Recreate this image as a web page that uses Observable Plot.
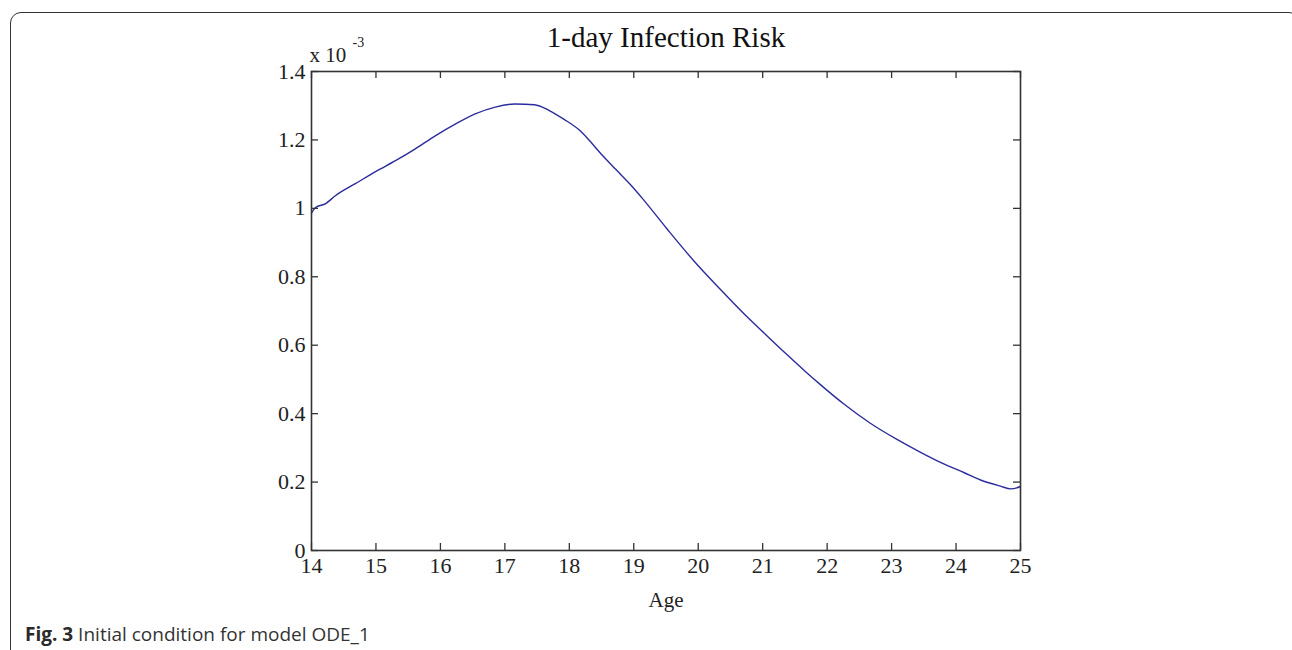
<!DOCTYPE html>
<html>
<head>
<meta charset="utf-8">
<script src="https://cdn.jsdelivr.net/npm/d3@7"></script>
<script src="https://cdn.jsdelivr.net/npm/@observablehq/plot@0.6"></script>
<style>
  html, body { margin: 0; padding: 0; background: #fff; overflow: hidden; }
  #wrap { position: relative; width: 1292px; height: 650px; overflow: hidden; }
  #border { position: absolute; left: 10px; top: 12px; width: 1290px; height: 700px;
            border: 1.5px solid #333; border-radius: 11px; box-sizing: border-box; }
  #chart { position: absolute; left: 0; top: 0; }
  #caption { position: absolute; left: 25px; top: 622px; font-family: "Open Sans", sans-serif;
             font-size: 19px; line-height: 24px; color: #333; white-space: nowrap; }
  #caption b { color: #2a2a2a; }
</style>
</head>
<body>
<div id="wrap">
  <div id="border"></div>
  <div id="chart"></div>
  <div id="caption"><b>Fig. 3</b> Initial condition for model ODE_1</div>
</div>
<script>
// Data (risk in units of 1e-3)
const ages = [14.0, 14.06, 14.22, 14.37, 14.68, 15.0, 15.31, 15.61, 15.92, 16.23, 16.54, 16.85, 17.15, 17.46, 17.69, 17.92, 18.16, 18.28, 18.48, 18.72, 18.95, 19.13, 19.52, 19.93, 20.35, 20.71, 21.02, 21.38, 21.64, 21.90, 22.26, 22.67, 23.09, 23.45, 23.81, 24.12, 24.38, 24.69, 24.85, 25.0];
const risk = [0.986, 1.002, 1.014, 1.037, 1.072, 1.108, 1.140, 1.174, 1.212, 1.246, 1.276, 1.296, 1.305, 1.303, 1.286, 1.260, 1.228, 1.205, 1.162, 1.114, 1.069, 1.030, 0.939, 0.847, 0.762, 0.692, 0.636, 0.572, 0.527, 0.484, 0.428, 0.372, 0.324, 0.287, 0.253, 0.228, 0.206, 0.188, 0.180, 0.187];
const xTicks = [14, 15, 16, 17, 18, 19, 20, 21, 22, 23, 24, 25];
const yTicks = [0, 0.2, 0.4, 0.6, 0.8, 1, 1.2, 1.4];
const yTickLabels = ["0", "0.2", "0.4", "0.6", "0.8", "1", "1.2", "1.4"];
const titleText = "1-day Infection Risk";
const xLabel = "Age";
const expBase = "x 10";
const expPower = "-3";

const data = ages.map((a, i) => ({age: a, risk: risk[i]}));

const W = 1292, H = 650, mL = 311, mR = 272, mT = 71, mB = 100;
const innerW = W - mL - mR, innerH = H - mT - mB, tick = 7;
const serif = "'Liberation Serif', 'Times New Roman', serif";
const ink = "#222";

const chart = Plot.plot({
  width: W, height: H,
  marginLeft: mL, marginRight: mR, marginTop: mT, marginBottom: mB,
  style: {background: "transparent", color: ink, fontFamily: serif},
  x: {domain: [14, 25], axis: null},
  y: {domain: [0, 1.4], axis: null},
  marks: [
    Plot.line(data, {x: "age", y: "risk", stroke: "#2c2c9c", strokeWidth: 1.4, curve: "monotone-x"}),
    // inward ticks
    Plot.tickX(xTicks, {x: d => d, insetTop: innerH - tick, stroke: "#333", strokeWidth: 1.3}),
    Plot.tickX(xTicks, {x: d => d, insetBottom: innerH - tick, stroke: "#333", strokeWidth: 1.3}),
    Plot.tickY(yTicks, {y: d => d, insetRight: innerW - tick, stroke: "#333", strokeWidth: 1.3}),
    Plot.tickY(yTicks, {y: d => d, insetLeft: innerW - tick, stroke: "#333", strokeWidth: 1.3}),
    Plot.frame({stroke: "#333", strokeWidth: 1.6}),
    // tick labels
    Plot.axisX(xTicks, {tickSize: 0, tickPadding: 7, fontSize: 22, fontFamily: serif, fill: ink, label: null}),
    Plot.axisY(yTicks, {tickSize: 0, tickPadding: 6, fontSize: 22, fontFamily: serif, fill: ink, label: null,
                        tickFormat: (d) => yTickLabels[yTicks.indexOf(d)]}),
    // axis label, title, exponent
    Plot.text([xLabel], {frameAnchor: "bottom", lineAnchor: "middle", dy: 50, fontSize: 21, fontFamily: serif, fill: ink}),
    Plot.text([titleText], {frameAnchor: "top", lineAnchor: "middle", dy: -34, fontSize: 29, fontFamily: serif, fill: "#111"}),
    Plot.text([expBase], {frameAnchor: "top-left", lineAnchor: "middle", dx: -2, dy: -16, textAnchor: "start", fontSize: 21, fontFamily: serif, fill: ink}),
    Plot.text([expPower], {frameAnchor: "top-left", lineAnchor: "middle", dx: 41, dy: -29, textAnchor: "start", fontSize: 14, fontFamily: serif, fill: ink})
  ]
});
document.getElementById("chart").appendChild(chart);
</script>
</body>
</html>
